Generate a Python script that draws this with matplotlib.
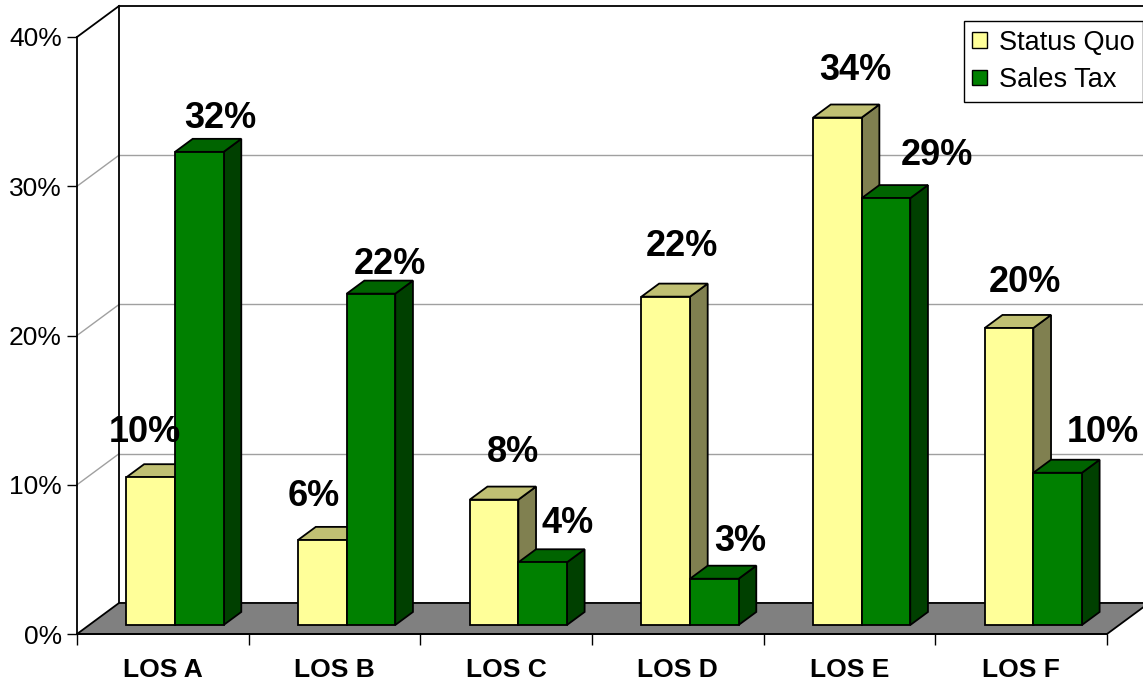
"""
Pseudo-3D clustered column chart: share of trips by level of service,
status quo vs. sales tax scenario. Oblique projection drawn by hand.
"""
import matplotlib
matplotlib.use("Agg")
import matplotlib.pyplot as plt
from matplotlib.patches import Polygon, Patch
from matplotlib.ticker import FixedLocator, PercentFormatter

plt.rcParams["font.family"] = ["Liberation Sans", "DejaVu Sans"]

CATEGORIES = ["LOS A", "LOS B", "LOS C", "LOS D", "LOS E", "LOS F"]
SERIES_NAMES = ["Status Quo", "Sales Tax"]
STATUS_QUO = [9.9, 5.7, 8.4, 22.0, 34.0, 19.9]
SALES_TAX = [31.7, 22.2, 4.2, 3.1, 28.6, 10.2]
Y_TICKS = [0, 10, 20, 30, 40]

# front, top, side shades for each series
SQ_SHADES = ("#FFFF99", "#C0C073", "#808050")
ST_SHADES = ("#008000", "#006400", "#004000")

# oblique projection: one unit of depth shifts by this much (data units)
DEPTH_X = 0.245
DEPTH_Y = 2.08
BAR_W = 0.283
BAR_D0, BAR_D1 = 0.29, 0.71

# label nudges in pixels (right, up) from the top of each front face
SQ_NUDGE = [(-6, 45), (-9, 43), (19, 47), (16, 50), (18, 47), (16, 45)]
ST_NUDGE = [(21, 33), (19, 29), (25, 39), (26, 37), (51, 43), (45, 40)]

EDGE = dict(edgecolor="black", linewidth=1.3, clip_on=False)


def proj(x, y, d):
    return (x + d * DEPTH_X, y + d * DEPTH_Y)


def draw_bar(ax, x0, v, shades):
    front, top, side = shades
    x1 = x0 + BAR_W
    faces = [
        ([proj(x1, 0, BAR_D0), proj(x1, 0, BAR_D1),
          proj(x1, v, BAR_D1), proj(x1, v, BAR_D0)], side),
        ([proj(x0, v, BAR_D0), proj(x1, v, BAR_D0),
          proj(x1, v, BAR_D1), proj(x0, v, BAR_D1)], top),
        ([proj(x0, 0, BAR_D0), proj(x1, 0, BAR_D0),
          proj(x1, v, BAR_D0), proj(x0, v, BAR_D0)], front),
    ]
    for pts, color in faces:
        ax.add_patch(Polygon(pts, facecolor=color, zorder=3, **EDGE))


def label_bar(ax, x0, v, nudge):
    x, y = proj(x0 + BAR_W / 2, v, BAR_D0)
    ax.annotate(f"{v:.0f}%", xy=(x, y), xytext=nudge,
                textcoords="offset pixels", ha="center", va="center",
                fontsize=26, fontweight="bold", annotation_clip=False,
                zorder=6)


fig = plt.figure(figsize=(11.43, 6.85), dpi=100)
ax = fig.add_axes([77 / 1143, 51 / 685, 1030 / 1143, 597 / 685])
n = len(CATEGORIES)
ax.set_xlim(0, n)
ax.set_ylim(0, Y_TICKS[-1])
ax.patch.set_visible(False)

# walls: back wall gridlines and left wall diagonals
top = Y_TICKS[-1]
for t in Y_TICKS[1:]:
    col, lw = ("black", 1.3) if t == top else ("#A0A0A0", 1.0)
    ax.plot(*zip(proj(0, t, 0), proj(0, t, 1)), color=col, lw=lw,
            clip_on=False, zorder=1)
    ax.plot(*zip(proj(0, t, 1), proj(n, t, 1)), color=col, lw=lw,
            clip_on=False, zorder=1)
ax.plot(*zip(proj(0, 0, 1), proj(0, top, 1)), color="black", lw=1.3,
        clip_on=False, zorder=1)

# floor
ax.add_patch(Polygon([proj(0, 0, 0), proj(n, 0, 0), proj(n, 0, 1),
                      proj(0, 0, 1)], facecolor="#808080", zorder=2, **EDGE))

# bars, left to right so nearer faces overlap correctly
for i in range(n):
    left = i + 0.5 - BAR_W
    draw_bar(ax, left, STATUS_QUO[i], SQ_SHADES)
    draw_bar(ax, left + BAR_W, SALES_TAX[i], ST_SHADES)
for i in range(n):
    left = i + 0.5 - BAR_W
    label_bar(ax, left, STATUS_QUO[i], SQ_NUDGE[i])
    label_bar(ax, left + BAR_W, SALES_TAX[i], ST_NUDGE[i])

# axes: front value axis and category axis
for s in ("top", "right"):
    ax.spines[s].set_visible(False)
for s in ("left", "bottom"):
    ax.spines[s].set_linewidth(1.3)
    ax.spines[s].set_zorder(5)
ax.yaxis.set_major_locator(FixedLocator(Y_TICKS))
ax.yaxis.set_major_formatter(PercentFormatter(decimals=0))
ax.tick_params(axis="y", direction="out", length=7.2, width=1.0, pad=3.6,
               labelsize=19)
ax.xaxis.set_major_locator(FixedLocator(range(n + 1)))
ax.xaxis.set_minor_locator(FixedLocator([i + 0.5 for i in range(n)]))
ax.set_xticklabels([])
ax.set_xticklabels(CATEGORIES, minor=True, fontsize=19, fontweight="bold")
ax.tick_params(axis="x", which="major", direction="out", length=8, width=1.0)
ax.tick_params(axis="x", which="minor", length=0, pad=17)

handles = [Patch(facecolor=SQ_SHADES[0], edgecolor="black", linewidth=1.0),
           Patch(facecolor=ST_SHADES[0], edgecolor="black", linewidth=1.0)]
leg = fig.legend(handles, SERIES_NAMES, loc="upper right",
                 bbox_to_anchor=(1.0, 1 - 21 / 685), borderaxespad=0,
                 fontsize=19.5, fancybox=False, framealpha=1,
                 edgecolor="black", handlelength=0.52, handleheight=0.52,
                 handletextpad=0.45, labelspacing=0.42, borderpad=0.32)
leg.get_frame().set_linewidth(1.0)

fig.savefig("out.png", dpi=100)
